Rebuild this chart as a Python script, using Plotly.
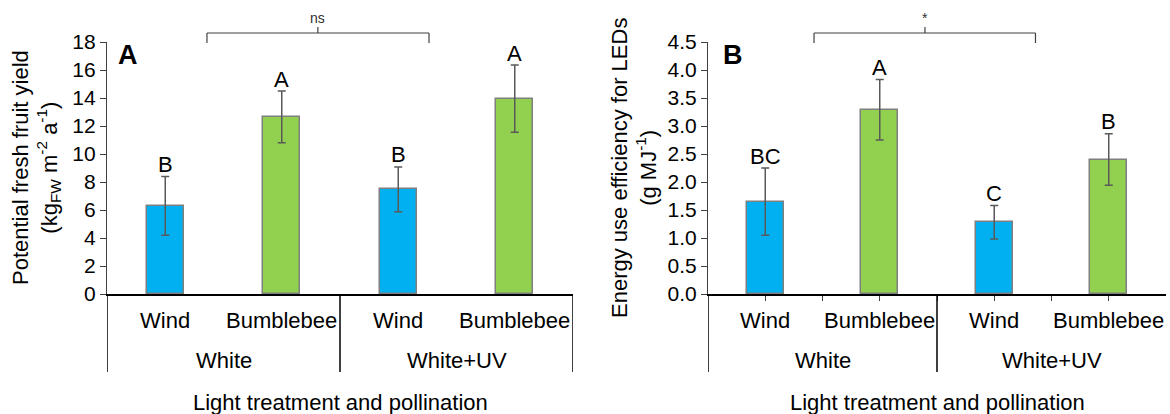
import numpy as np
import plotly.graph_objects as go

# ---------------- data ----------------
pollination = ["Wind", "Bumblebee", "Wind", "Bumblebee"]
light_groups = ["White", "White+UV"]
yield_mean = [6.3, 12.65, 7.48, 13.95]
yield_err = [2.1, 1.85, 1.6, 2.4]
yield_letters = ["B", "A", "B", "A"]
eue_mean = [1.65, 3.29, 1.28, 2.40]
eue_err = [0.60, 0.54, 0.30, 0.46]
eue_letters = ["BC", "A", "C", "B"]
yield_ticks = [0, 2, 4, 6, 8, 10, 12, 14, 16, 18]
eue_ticks = [0.0, 0.5, 1.0, 1.5, 2.0, 2.5, 3.0, 3.5, 4.0, 4.5]

# ---------------- style ----------------
W, H = 1170, 414
FONT = "Arial, Liberation Sans, sans-serif"
BLUE = "#00B0F0"
GREEN = "#92D050"
colors = [BLUE if p == "Wind" else GREEN for p in pollination]
xpos = list(range(len(pollination)))


def px(x):
    return x / W


def py(y):
    return (H - y) / H


fig = go.Figure()

panels = [
    dict(mean=yield_mean, err=yield_err, letters=yield_letters, xa="x", ya="y",
         xdom=[px(107), px(573)], label="A", label_x=128, ticks=yield_ticks,
         fmt="d", right_line=True, sig="ns", br=(0.358, 2.264, 1.31),
         title="Potential fresh fruit yield<br>(kg<sub>FW</sub> m<sup>-2</sup> a<sup>-1</sup>)",
         title_x=36),
    dict(mean=eue_mean, err=eue_err, letters=eue_letters, xa="x2", ya="y2",
         xdom=[px(708), px(1166)], label="B", label_x=733, ticks=eue_ticks,
         fmt=".1f", right_line=False, sig="*", br=(0.426, 2.36, 1.395),
         title="Energy use efficiency for LEDs<br>(g MJ<sup>-1</sup>)",
         title_x=634),
]

ydom = [py(294), py(42)]
shapes = []
annotations = []


def ann(**kw):
    base = dict(showarrow=False, xanchor="center", yanchor="middle")
    base.update(kw)
    annotations.append(base)


for i, p in enumerate(panels):
    fig.add_trace(go.Bar(
        x=xpos, y=p["mean"], width=0.32,
        marker=dict(color=colors, line=dict(color="#7f7f7f", width=1.5)),
        error_y=dict(type="data", array=p["err"], visible=True,
                     color="#595959", thickness=1.5, width=4),
        xaxis=p["xa"], yaxis=p["ya"], showlegend=False, hoverinfo="skip",
    ))
    sfx = "" if i == 0 else "2"
    ymax = p["ticks"][-1]
    fig.update_layout(**{
        "xaxis" + sfx: dict(domain=p["xdom"], range=[-0.5, len(xpos) - 0.5],
                            showline=True, linecolor="black", linewidth=1.5,
                            showgrid=False, zeroline=False, showticklabels=False,
                            ticks="outside" if i == 1 else "",
                            tickvals=list(np.arange(0, len(xpos) - 0.9, 0.5)) if i == 1 else [],
                            ticklen=5, tickcolor="#404040", tickwidth=1,
                            anchor="y" + sfx, automargin=False),
        "yaxis" + sfx: dict(domain=ydom, range=[0, ymax], showline=True,
                            linecolor="#404040", linewidth=1.2, showgrid=False,
                            zeroline=False, ticks="outside", ticklen=6,
                            tickcolor="#404040", tickvals=p["ticks"],
                            tickformat=p["fmt"], anchor="x" + sfx, automargin=False,
                            tickfont=dict(size=21, color="black", family=FONT)),
    })
    xa = p["xa"]
    # significance letters
    for xv, m, e, l in zip(xpos, p["mean"], p["err"], p["letters"]):
        ann(x=xv, y=m + e, xref=xa, yref=p["ya"], text=l, yshift=12,
            font=dict(size=22, color="black", family=FONT))
    # panel letter
    ann(x=px(p["label_x"]), y=py(55), xref="paper", yref="paper",
        text="<b>%s</b>" % p["label"], font=dict(size=27, color="black", family=FONT))
    # y title
    ann(x=px(p["title_x"]), y=py(168), xref="paper", yref="paper",
        text=p["title"], textangle=-90, font=dict(size=22, color="black", family=FONT))
    # pollination labels
    for xv, lab in zip(xpos, pollination):
        ann(x=xv, y=py(320), xref=xa, yref="paper", text=lab,
            font=dict(size=22, color="black", family=FONT))
    # light group labels
    for g, lab in enumerate(light_groups):
        ann(x=2 * g + 0.5, y=py(360), xref=xa, yref="paper", text=lab,
            font=dict(size=22, color="black", family=FONT))
    # axis title
    ann(x=(len(xpos) - 1) / 2, y=py(402), xref=xa, yref="paper",
        text="Light treatment and pollination",
        font=dict(size=22, color="black", family=FONT))
    # group divider lines
    divs = [-0.5, 1.5] + ([len(xpos) - 0.5] if p["right_line"] else [])
    for d in divs:
        shapes.append(dict(type="line", xref=xa, yref="paper", x0=d, x1=d,
                           y0=py(294), y1=py(372), line=dict(color="black", width=1.5)))
    # comparison bracket
    b0, b1, bc = p["br"]
    lc = dict(color="#404040", width=1.2)
    shapes.append(dict(type="line", xref=xa, yref="paper", x0=b0, x1=b1,
                       y0=py(33), y1=py(33), line=lc))
    shapes.append(dict(type="line", xref=xa, yref="paper", x0=b0, x1=b0,
                       y0=py(33), y1=py(43), line=lc))
    shapes.append(dict(type="line", xref=xa, yref="paper", x0=b1, x1=b1,
                       y0=py(33), y1=py(43), line=lc))
    shapes.append(dict(type="line", xref=xa, yref="paper", x0=bc, x1=bc,
                       y0=py(27), y1=py(33), line=lc))
    ann(x=bc, y=py(18), xref=xa, yref="paper", text=p["sig"],
        font=dict(size=14, color="#303030", family=FONT))

fig.update_layout(
    width=W, height=H, margin=dict(l=0, r=0, t=0, b=0, pad=0, autoexpand=False),
    paper_bgcolor="white", plot_bgcolor="white",
    shapes=shapes, annotations=annotations, bargap=0,
    font=dict(family=FONT, color="black"),
)

fig.write_html("out.html", config={"displayModeBar": False},
               post_script="document.body.style.margin='0';document.body.style.overflow='hidden';")
